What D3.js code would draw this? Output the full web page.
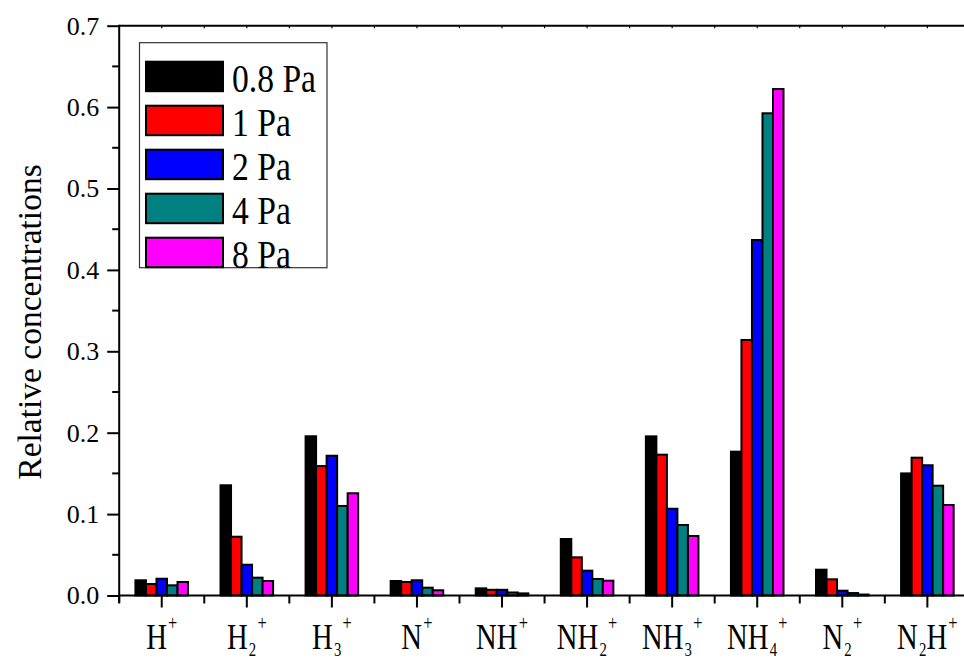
<!DOCTYPE html>
<html>
<head>
<meta charset="utf-8">
<script src="https://cdn.jsdelivr.net/npm/d3@7"></script>
<style>
  html, body { margin: 0; padding: 0; background: #fff; }
  svg { display: block; }
  svg text { font-family: "Liberation Serif", "DejaVu Serif", serif !important; fill: #000; }
</style>
</head>
<body>
<svg id="chart" width="964" height="660"></svg>
<script>
// Ion species (digits are drawn as subscripts, "+" as a superscript)
const categories = ["H+", "H2+", "H3+", "N+", "NH+", "NH2+", "NH3+", "NH4+", "N2+", "N2H+"];

// Pressure series
const seriesNames = ["0.8 Pa", "1 Pa", "2 Pa", "4 Pa", "8 Pa"];
const seriesColors = ["#000000", "#ff0000", "#0000ff", "#008080", "#ff00ff"];

// Relative concentrations, one array per pressure, ordered as categories
const p08 = [0.0187, 0.1354, 0.1956, 0.0178, 0.0088, 0.0694, 0.1955, 0.1767, 0.0317, 0.1500];
const p1  = [0.0141, 0.0722, 0.1590, 0.0166, 0.0070, 0.0469, 0.1730, 0.3139, 0.0199, 0.1693];
const p2  = [0.0206, 0.0378, 0.1717, 0.0187, 0.0070, 0.0305, 0.1066, 0.4367, 0.0059, 0.1600];
const p4  = [0.0125, 0.0219, 0.1100, 0.0096, 0.0037, 0.0203, 0.0866, 0.5924, 0.0030, 0.1349];
const p8  = [0.0166, 0.0178, 0.1256, 0.0064, 0.0026, 0.0182, 0.0731, 0.6222, 0.0012, 0.1112];
const seriesValues = [p08, p1, p2, p4, p8];

const yTicks = [0.0, 0.1, 0.2, 0.3, 0.4, 0.5, 0.6, 0.7];
const yMinorTicks = [0.05, 0.15, 0.25, 0.35, 0.45, 0.55, 0.65];

const FONT = "'Liberation Serif', 'DejaVu Serif', serif";
const svg = d3.select("#chart");

const plotLeft = 119.2, plotRight = 969.9, plotTop = 25.7, plotBottom = 595.5;

const x0 = d3.scaleBand()
  .domain(categories)
  .range([plotLeft, plotRight])
  .paddingInner(0.382)
  .paddingOuter(0.191);

const x1 = d3.scaleBand()
  .domain(seriesNames)
  .range([0, x0.bandwidth()]);

const y = d3.scaleLinear().domain([0, 0.7]).range([plotBottom, plotTop]);

// Bars
const groups = svg.append("g").selectAll("g")
  .data(categories)
  .join("g")
  .attr("transform", d => `translate(${x0(d)},0)`);

groups.selectAll("rect")
  .data((c, i) => seriesNames.map((s, k) => ({ s, k, v: seriesValues[k][i] })))
  .join("rect")
  .attr("x", d => x1(d.s))
  .attr("width", x1.bandwidth())
  .attr("y", d => y(d.v))
  .attr("height", d => y(0) - y(d.v))
  .attr("fill", d => seriesColors[d.k])
  .attr("stroke", "#000")
  .attr("stroke-width", 2);

// Frame: top line
svg.append("line")
  .attr("x1", plotLeft).attr("x2", plotRight)
  .attr("y1", plotTop).attr("y2", plotTop)
  .attr("stroke", "#000").attr("stroke-width", 2);

// Left axis with major and minor ticks
const yAxis = svg.append("g")
  .attr("transform", `translate(${plotLeft},0)`)
  .call(d3.axisLeft(y).tickValues(yTicks).tickFormat(d3.format(".1f")).tickSize(12).tickPadding(8));
yAxis.attr("font-family", FONT).attr("font-size", 26);
yAxis.select(".domain").attr("stroke-width", 2).attr("d", `M0,${plotBottom + 7}V${plotTop - 1}`);
yAxis.selectAll(".tick line").attr("stroke-width", 2);

svg.append("g").selectAll("line")
  .data(yMinorTicks)
  .join("line")
  .attr("x1", plotLeft - 7).attr("x2", plotLeft)
  .attr("y1", d => y(d)).attr("y2", d => y(d))
  .attr("stroke", "#000").attr("stroke-width", 2);

// Bottom axis: major ticks at category centres, minor ticks at band boundaries
const step = x0.step();
const centers = categories.map(c => x0(c) + x0.bandwidth() / 2);
const boundaries = [centers[0] - step / 2].concat(centers.map(c => c + step / 2));

const xAxis = svg.append("g")
  .attr("transform", `translate(0,${plotBottom})`)
  .call(d3.axisBottom(x0).tickSize(12).tickFormat(""));
xAxis.select(".domain").attr("stroke-width", 2).attr("d", `M${plotLeft - 1},0H${plotRight}`);
xAxis.selectAll(".tick line").attr("stroke-width", 2);

svg.append("g").selectAll("line")
  .data(boundaries)
  .join("line")
  .attr("x1", d => d).attr("x2", d => d)
  .attr("y1", plotBottom).attr("y2", plotBottom + 8)
  .attr("stroke", "#000").attr("stroke-width", 2);

// Small inward ticks on the top line
svg.append("g").selectAll("line")
  .data(centers.concat(boundaries))
  .join("line")
  .attr("x1", d => d).attr("x2", d => d)
  .attr("y1", plotTop).attr("y2", plotTop + 2.5)
  .attr("stroke", "#000").attr("stroke-width", 1.2);

// Category labels with chemical subscripts and superscripts
function labelParts(name) {
  return name.split("").map(ch => ({
    ch,
    kind: /[0-9]/.test(ch) ? "sub" : (ch === "+" ? "sup" : "main")
  }));
}
const baseY = 649;
const mainSize = 35, smallSize = 18;
const offsets = { main: 0, sub: 6.5, sup: -19 };

categories.forEach((c, i) => {
  const t = svg.append("text")
    .attr("font-family", FONT)
    .attr("transform", `translate(${centers[i]},${baseY}) scale(0.82,1)`)
    .attr("text-anchor", "middle");
  let cur = 0;
  labelParts(c).forEach(p => {
    const target = offsets[p.kind];
    t.append("tspan")
      .attr("dy", target - cur)
      .attr("dx", p.kind === "main" ? 0 : 1.5)
      .attr("font-size", p.kind === "main" ? mainSize : (p.kind === "sup" ? 20 : smallSize))
      .text(p.ch);
    cur = target;
  });
});

// Y-axis title
svg.append("text")
  .attr("font-family", FONT)
  .attr("transform", "translate(41,322) rotate(-90)")
  .attr("text-anchor", "middle")
  .attr("font-size", 33.5)
  .text("Relative concentrations");

// Legend
const legend = svg.append("g");
legend.append("rect")
  .attr("x", 139.5).attr("y", 42.7)
  .attr("width", 187.5).attr("height", 225)
  .attr("fill", "#fff")
  .attr("stroke", "#333").attr("stroke-width", 1.2);

const legendRow = d3.scaleLinear().domain([0, 4]).range([60.7, 236.7]);
const items = legend.selectAll("g.item")
  .data(seriesNames)
  .join("g")
  .attr("class", "item")
  .attr("transform", (d, i) => `translate(0,${legendRow(i)})`);

items.append("rect")
  .attr("x", 146).attr("y", 1)
  .attr("width", 77).attr("height", 29.5)
  .attr("fill", (d, i) => seriesColors[i])
  .attr("stroke", "#000").attr("stroke-width", 2);

items.append("text")
  .attr("font-family", FONT)
  .attr("transform", "translate(232,31) scale(0.82,1)")
  .attr("font-size", 41)
  .text(d => d);
</script>
</body>
</html>
